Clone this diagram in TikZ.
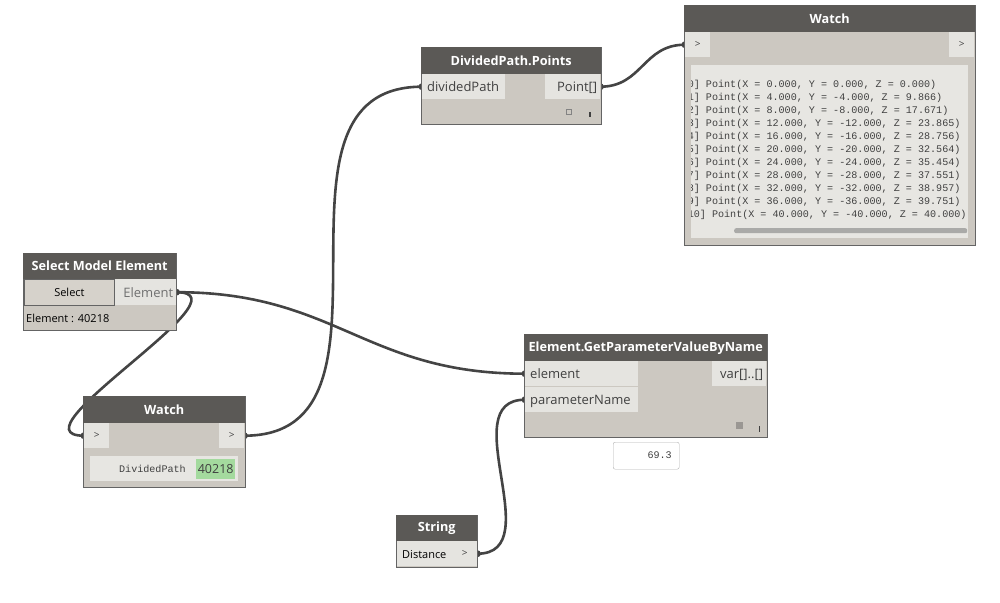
\documentclass[tikz,border=0pt]{standalone}
\usepackage{fontspec}
\setmainfont{Open Sans}
\newfontfamily\dymonofont{Liberation Mono}

\definecolor{dyhead}{RGB}{91,89,86}
\definecolor{dybody}{RGB}{204,200,193}
\definecolor{dyport}{RGB}{229,228,224}
\definecolor{dyarea}{RGB}{231,230,226}
\definecolor{dyedge}{RGB}{100,100,100}
\definecolor{dywire}{RGB}{68,68,68}
\definecolor{dytext}{RGB}{64,64,64}
\definecolor{dymute}{RGB}{112,112,112}
\definecolor{dygreen}{RGB}{164,218,158}
\definecolor{dybtn}{RGB}{214,210,203}
\definecolor{dyicon}{RGB}{154,151,147}
\definecolor{dyscroll}{RGB}{170,170,168}

\pgfdeclarelayer{wires}
\pgfsetlayers{wires,main}

\tikzset{
  dynode/.style={draw=dyedge,fill=dybody,line width=1pt,anchor=north west,inner sep=0pt},
  dytitle/.style={fill=dyhead,anchor=north west,inner sep=0pt,text=white,
    font=\fontsize{12.7}{14}\selectfont\bfseries},
  dyin/.style={fill=dyport,anchor=north west,inner xsep=5pt,inner ysep=0pt,align=left,
    minimum height=25pt,text height=11pt,text depth=1pt,text=dytext,font=\fontsize{13}{15}\selectfont},
  dyout/.style={dyin,inner xsep=3pt,align=right},
  dyjackbox/.style={fill=dyport,anchor=north west,inner sep=0pt,minimum width=25pt,
    minimum height=25pt,text=dytext,font=\fontsize{10}{12}\selectfont},
  dyarea/.style={fill=dyarea,anchor=north west,inner sep=0pt},
  dymono/.style={anchor=west,inner sep=0pt,text=dytext,font=\dymonofont\fontsize{10.1}{12}\selectfont},
  dywire/.style={draw=dywire,line width=2.6pt},
  dyjack/.style={fill=dywire},
}

\begin{document}
\begin{tikzpicture}[x=1pt,y=-1pt]
    \begin{pgfonlayer}{wires}
    \fill[white] (0,0) rectangle (1000,602);
    \end{pgfonlayer}
    \useasboundingbox (0,0) rectangle (1000,602);

    % Watch (points)
    \node[dynode,minimum width=291pt,minimum height=240pt] (wt) at (684,5) {};
    \node[dytitle,minimum width=291pt,minimum height=27pt] (wth) at (684,5) {Watch};
    \node[dyjackbox] (wtin) at (685,32) {>};
    \node[dyjackbox] (wtout) at (949,32) {>};
    \node[dyarea,minimum width=277pt,minimum height=173pt] (wtarea) at (691,65) {};
    \node[fill=dyscroll,rounded corners=2pt,anchor=north west,inner sep=0pt,
      minimum width=233pt,minimum height=5pt] (wtbar) at (734,228) {};
    \begin{scope}
    \clip (wtarea.north west) rectangle (wtarea.south east);
    \node[dymono] (p0) at (681.5,85) {[0] Point(X = 0.000, Y = 0.000, Z = 0.000)};
    \node[dymono] (p1) at (681.5,98) {[1] Point(X = 4.000, Y = -4.000, Z = 9.866)};
    \node[dymono] (p2) at (681.5,111) {[2] Point(X = 8.000, Y = -8.000, Z = 17.671)};
    \node[dymono] (p3) at (681.5,124) {[3] Point(X = 12.000, Y = -12.000, Z = 23.865)};
    \node[dymono] (p4) at (681.5,137) {[4] Point(X = 16.000, Y = -16.000, Z = 28.756)};
    \node[dymono] (p5) at (681.5,150) {[5] Point(X = 20.000, Y = -20.000, Z = 32.564)};
    \node[dymono] (p6) at (681.5,163) {[6] Point(X = 24.000, Y = -24.000, Z = 35.454)};
    \node[dymono] (p7) at (681.5,176) {[7] Point(X = 28.000, Y = -28.000, Z = 37.551)};
    \node[dymono] (p8) at (681.5,189) {[8] Point(X = 32.000, Y = -32.000, Z = 38.957)};
    \node[dymono] (p9) at (681.5,202) {[9] Point(X = 36.000, Y = -36.000, Z = 39.751)};
    \node[dymono] (p10) at (681.5,215) {[10] Point(X = 40.000, Y = -40.000, Z = 40.000)};
    \end{scope}

    % DividedPath.Points
    \node[dynode,minimum width=180pt,minimum height=77pt] (dp) at (421,47) {};
    \node[dytitle,minimum width=180pt,minimum height=27pt] (dph) at (421,47) {DividedPath.Points};
    \node[dyin,text width=73pt] (dpin) at (422,74) {dividedPath};
    \node[dyout,text width=49pt] (dpout) at (545,74) {Point[]};
    \node[draw=dyedge!80,line width=0.8pt,inner sep=0pt,minimum size=5pt] (dpicon) at (568.5,111.5) {};
    \node[fill=dytext,inner sep=0pt,minimum width=1.2pt,minimum height=5pt] (dpbar) at (590,114) {};

    % Select Model Element
    \node[dynode,minimum width=153pt,minimum height=77pt] (se) at (23,253) {};
    \node[dytitle,minimum width=153pt,minimum height=26pt] (seh) at (23,253) {Select Model Element};
    \node[draw=dyedge,fill=dybtn,line width=0.8pt,anchor=north west,inner sep=0pt,
      minimum width=90pt,minimum height=26pt,text=black,font=\fontsize{11}{13}\selectfont] (sebtn) at (24,279) {Select};
    \node[dyout,text width=55pt,minimum height=26pt,text=dymute] (seout) at (115,279) {Element};
    \node[anchor=west,inner sep=0pt,text=black,font=\fontsize{11}{13}\selectfont] (seval) at (26,318) {Element : 40218};

    % Watch (element)
    \node[dynode,minimum width=162pt,minimum height=91pt] (wb) at (83,396) {};
    \node[dytitle,minimum width=162pt,minimum height=27pt] (wbh) at (83,396) {Watch};
    \node[dyjackbox] (wbin) at (84,423) {>};
    \node[dyjackbox] (wbout) at (219,423) {>};
    \node[dyarea,minimum width=148pt,minimum height=25pt] (wbarea) at (90,456) {};
    \node[dymono,anchor=east] (wbname) at (186,468.5) {DividedPath};
    \node[fill=dygreen,anchor=north west,inner sep=0pt,minimum width=39pt,minimum height=20pt,
      text=dytext,font=\fontsize{12.5}{14}\selectfont] (wbval) at (196,458.5) {40218};

    % Element.GetParameterValueByName
    \node[dynode,minimum width=243pt,minimum height=103pt] (gp) at (524,334) {};
    \node[dytitle,minimum width=243pt,minimum height=27pt] (gph) at (524,334) {Element.GetParameterValueByName};
    \node[dyin,text width=103pt] (gpel) at (525,361) {element};
    \node[dyin,text width=103pt] (gppn) at (525,387) {parameterName};
    \node[dyout,text width=48pt] (gpout) at (712,361) {var[]..[]};
    \node[fill=dyicon,inner sep=0pt,minimum size=7pt] (gpicon) at (739.5,425.5) {};
    \node[fill=dytext,inner sep=0pt,minimum width=1.2pt,minimum height=6pt] (gpbar) at (759.5,428.5) {};
    \node[draw=dyedge!50,fill=white,rounded corners=2pt,anchor=north west,inner sep=0pt,
      minimum width=66pt,minimum height=27pt] (gpprev) at (613,442) {};
    \node[dymono,anchor=east] (gpval) at (672,455.5) {69.3};

    % String
    \node[dynode,minimum width=81pt,minimum height=52pt] (st) at (396,515) {};
    \node[dytitle,minimum width=81pt,minimum height=26pt] (sth) at (396,515) {String};
    \node[dyin,text width=45pt,font=\fontsize{11}{13}\selectfont,text=black] (stval) at (397,541) {Distance};
    \node[dyjackbox] (stout) at (452,541) {>};

    \begin{pgfonlayer}{wires}
    \draw[dywire] (seout.east) .. controls +(160,0) and +(-160,0) .. (gpel.west);
    \draw[dywire] (seout.east) .. controls +(77,0) and +(-77,0) .. (wbin.west);
    \draw[dywire] (wbout.east) .. controls +(176,0) and +(-176,0) .. (dpin.west);
    \draw[dywire] (dpout.east) .. controls +(42,0) and +(-42,0) .. (wtin.west);
    \draw[dywire] (stout.east) .. controls +(72,0) and +(-72,0) .. (gppn.west);
    \fill[dyjack] (seout.east) circle (3.5pt);
    \fill[dyjack] (gpel.west) circle (3.5pt);
    \fill[dyjack] (gppn.west) circle (3.5pt);
    \fill[dyjack] (wbin.west) circle (3.5pt);
    \fill[dyjack] (wbout.east) circle (3.5pt);
    \fill[dyjack] (dpin.west) circle (3.5pt);
    \fill[dyjack] (dpout.east) circle (3.5pt);
    \fill[dyjack] (wtin.west) circle (3.5pt);
    \fill[dyjack] (stout.east) circle (3.5pt);
    \end{pgfonlayer}
\end{tikzpicture}
\end{document}
